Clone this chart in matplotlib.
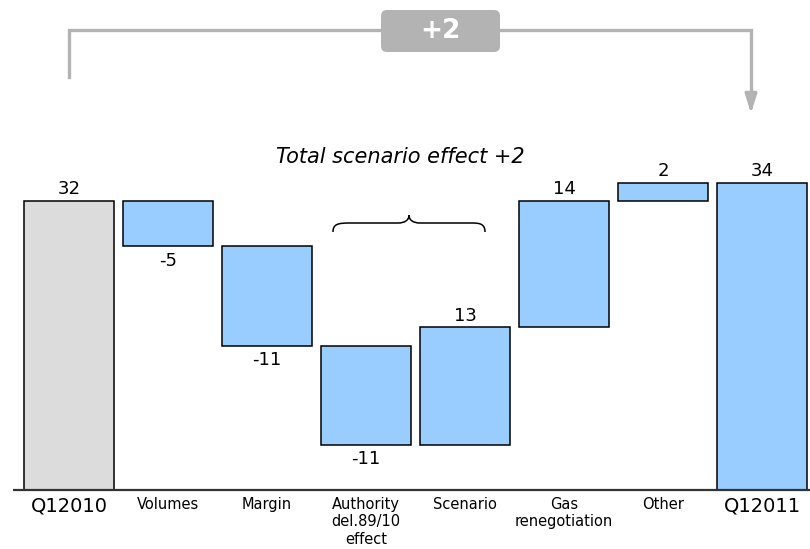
import matplotlib
matplotlib.use("Agg")
import matplotlib.pyplot as plt
from matplotlib.patches import FancyBboxPatch, PathPatch
from matplotlib.path import Path
from matplotlib.transforms import Affine2D
import numpy as np

# data
categories = ["Q12010", "Volumes", "Margin", "Authority\ndel.89/10\neffect",
              "Scenario", "Gas\nrenegotiation", "Other", "Q12011"]
start_value = 32
deltas = [-5, -11, -11, 13, 14, 2]
end_value = 34
total_effect = "+2"
note_text = "Total scenario effect +2"

BLUE = "#99ccff"
GREY = "#dcdcdc"
LINE = "#b3b3b3"

W, H = 810, 549
fig = plt.figure(figsize=(W / 100, H / 100), dpi=100)
ax = fig.add_axes([0, 0, 1, 1])
ax.set_axis_off()

# pixel layout: bar centers 99px apart, first at x=69, baseline at y=490
x0, step = 69, 99
y0, unit = 490, 9.03
ax.set_xlim(-x0 / step, (W - x0) / step)
ax.set_ylim(-(H - y0) / unit, y0 / unit)


def px(x, y):
    # pixel (from top-left) -> data coords, used for annotations only
    return (x - x0) / step, (y0 - y) / unit


# pixel transform (top-left origin) for the rounded box
pix = Affine2D().scale(1, -1).translate(0, H)

# waterfall bars
cum = np.concatenate([[start_value], start_value + np.cumsum(deltas)])
bottoms = [0]
heights = [start_value]
for i, d in enumerate(deltas):
    lo = min(cum[i], cum[i + 1])
    bottoms.append(lo)
    heights.append(abs(d))
bottoms.append(0)
heights.append(end_value)
colors = [GREY] + [BLUE] * len(deltas) + [BLUE]
xs = np.arange(len(categories))
ax.bar(xs, heights, bottom=bottoms, width=90 / step, color=colors,
       edgecolor="black", linewidth=1.1, zorder=2)

# value labels
values = [start_value] + deltas + [end_value]
for i, v in enumerate(values):
    if v >= 0:
        ax.annotate(f"{v}", (xs[i], bottoms[i] + heights[i]), xytext=(0, 2),
                    textcoords="offset points", ha="center", va="bottom",
                    fontsize=13)
    else:
        ax.annotate(f"{v}", (xs[i], bottoms[i]), xytext=(0, -4),
                    textcoords="offset points", ha="center", va="top",
                    fontsize=13)

# baseline
bx0, _ = px(13, 0)
ax.plot([bx0, ax.get_xlim()[1]], [0, 0], color="#333333", lw=1.6, zorder=3,
        solid_capstyle="butt")

# category labels
for i, c in enumerate(categories):
    big = i in (0, len(categories) - 1)
    ax.text(xs[i], px(0, 497)[1], c, ha="center", va="top",
            fontsize=14 if big else 10.5, linespacing=1.2)

# top bracket with arrow
lx, ly_bot = px(69, 77)
_, ly = px(0, 30)
rx, tip = px(751, 116)
_, head = px(0, 100)
ax.plot([lx, lx, rx, rx], [ly_bot, ly, ly, head], color=LINE, lw=2.4,
        solid_joinstyle="miter", zorder=1)
ax.annotate("", xy=(rx, tip), xytext=(rx, head + 0.01),
            arrowprops=dict(arrowstyle="-|>,head_width=0.35,head_length=1.1",
                            color=LINE, lw=2.4))
box = FancyBboxPatch((381, 10), 119, 42,
                     boxstyle="round,pad=0,rounding_size=6",
                     facecolor=LINE, edgecolor="none", zorder=3,
                     transform=pix)
ax.add_patch(box)
tx, ty = px(440.5, 31)
ax.text(tx, ty, total_effect, ha="center", va="center", color="white",
        fontsize=19, fontweight="bold", zorder=5)

# note and brace
nx, ny = px(400, 157)
ax.text(nx, ny, note_text, ha="center", va="center", fontsize=15,
        style="italic")

brace_px = [(333, 232), (333, 224), (338, 223), (350, 223),
            (398, 223), (405, 223), (409, 220), (409, 215),
            (409, 220), (413, 223), (420, 223),
            (472, 223), (480, 223), (485, 224), (485, 232)]
verts = [px(*p) for p in brace_px]
codes = [Path.MOVETO, Path.CURVE4, Path.CURVE4, Path.CURVE4,
         Path.LINETO, Path.CURVE4, Path.CURVE4, Path.CURVE4,
         Path.CURVE4, Path.CURVE4, Path.CURVE4,
         Path.LINETO, Path.CURVE4, Path.CURVE4, Path.CURVE4]
ax.add_patch(PathPatch(Path(verts, codes), facecolor="none",
                       edgecolor="black", lw=1.1))

fig.savefig("out.png", dpi=100)
